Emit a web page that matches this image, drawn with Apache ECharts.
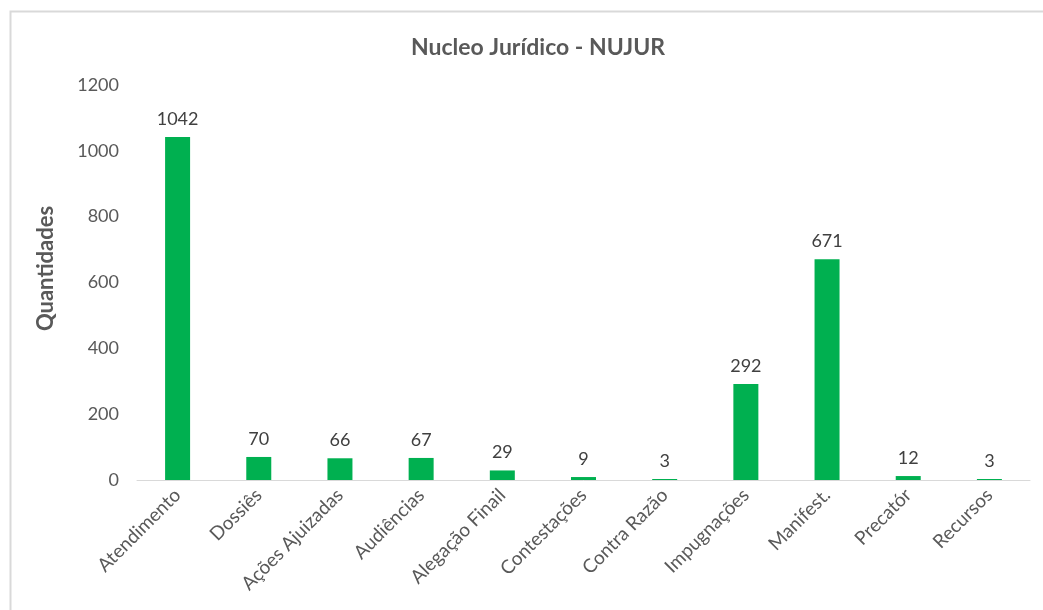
<!DOCTYPE html>
<html><head><meta charset="utf-8">
<script src="https://cdn.jsdelivr.net/npm/echarts@6/dist/echarts.min.js"></script>
<style>html,body{margin:0;padding:0;background:#fff}#c{width:1043px;height:610px}</style>
</head><body><div id="c"></div>
<script>
const categories = ['Atendimento','Dossiês','Ações Ajuizadas','Audiências','Alegação Finail','Contestações','Contra Razão','Impugnações','Manifest.','Precatór','Recursos'];
const values = [1042,70,66,67,29,9,3,292,671,12,3];
const yTicks = {min:0, max:1200, interval:200};
const FONT = 'Lato';
const chart = echarts.init(document.getElementById('c'));
chart.setOption({
  animation:false,
  textStyle:{fontFamily:FONT},
  graphic:[{type:'rect',shape:{x:10.5,y:11.5,width:1100,height:700},style:{fill:'none',stroke:'#d9d9d9',lineWidth:2}}],
  title:{text:'Nucleo Jurídico - NUJUR',left:533,top:31,textAlign:'center',
    textStyle:{fontFamily:FONT,fontSize:23,fontWeight:'bold',color:'#595959'}},
  grid:{left:137,right:13,top:85,bottom:130},
  xAxis:{type:'category',data:categories,
    axisLine:{lineStyle:{color:'#d9d9d9',width:1}},axisTick:{show:false},
    axisLabel:{rotate:45,fontFamily:FONT,fontSize:19,color:'#595959',margin:12,interval:0}},
  yAxis:{type:'value',min:yTicks.min,max:yTicks.max,interval:yTicks.interval,
    name:'Quantidades',nameLocation:'middle',nameGap:80,nameRotate:90,
    nameTextStyle:{fontFamily:FONT,fontSize:22,fontWeight:'bold',color:'#595959',padding:[0,0,0,28]},
    axisLine:{show:false},axisTick:{show:false},splitLine:{show:false},
    axisLabel:{fontFamily:FONT,fontSize:18,color:'#595959',margin:18,formatter:v=>String(v)}},
  series:[{type:'bar',data:values,barWidth:25,itemStyle:{color:'#00B050'},
    label:{show:true,position:'top',distance:9,fontFamily:FONT,fontSize:18,color:'#404040'}}]
});
</script></body></html>
